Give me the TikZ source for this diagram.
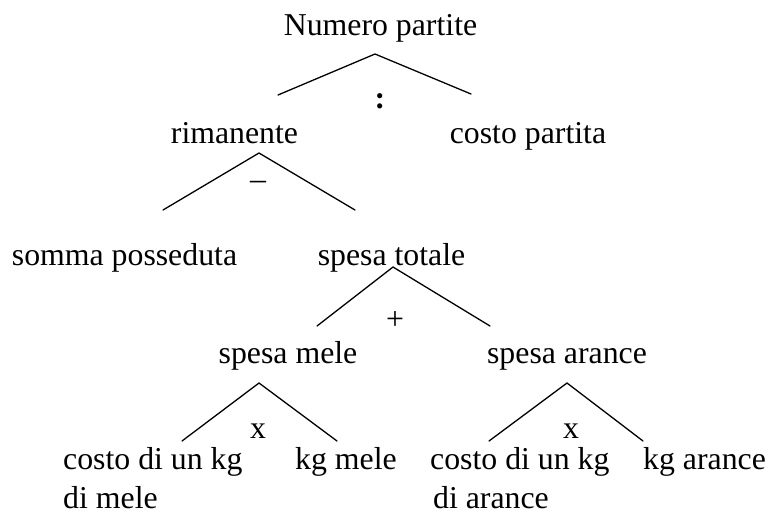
\documentclass[tikz,border=0pt]{standalone}
\usepackage{fontspec}
\setmainfont{Liberation Serif}
\usepackage{tikz}
\usetikzlibrary{positioning,calc}

\begin{document}
\begin{tikzpicture}[x=1pt,y=-1pt,
  lbl/.style={anchor=base,inner sep=0pt,font=\fontsize{31.8}{39}\selectfont},
  ramo/.style={line width=1.3pt,line cap=round}]
  \useasboundingbox (0,0) rectangle (770,515);

  % radice
  \node[lbl] (num) at (380.5,35) {Numero partite};
  \coordinate (a0) at (375,54);
  \coordinate (a0l) at (278,95);
  \coordinate (a0r) at (471,94);
  \draw[ramo] (a0l) -- (a0) -- (a0r);
  \node[lbl,anchor=center] (div) at (380,101) {\textbf{:}};

  % secondo livello
  \node[lbl] (rim) at (234.5,143) {rimanente};
  \node[lbl] (cpart) at (528,143) {costo partita};
  \coordinate (a1) at (259,153);
  \coordinate (a1l) at (163,210);
  \coordinate (a1r) at (355,210);
  \draw[ramo] (a1l) -- (a1) -- (a1r);
  \node[lbl,anchor=center] (meno) at (258,185) {--};

  % terzo livello
  \node[lbl] (somma) at (124.5,265) {somma posseduta};
  \node[lbl] (stot) at (391.5,265) {spesa totale};
  \coordinate (a2) at (393,267);
  \coordinate (a2l) at (317,326);
  \coordinate (a2r) at (490,326);
  \draw[ramo] (a2l) -- (a2) -- (a2r);
  \node[lbl,anchor=center] (piu) at (395,321) {+};

  % quarto livello
  \node[lbl] (smele) at (288,363) {spesa mele};
  \node[lbl] (sarance) at (567,363) {spesa arance};
  \coordinate (a3) at (259,383);
  \coordinate (a3l) at (182,441);
  \coordinate (a3r) at (337,441);
  \draw[ramo] (a3l) -- (a3) -- (a3r);
  \node[lbl] (permele) at (258,438) {x};
  \coordinate (a4) at (567,383);
  \coordinate (a4l) at (489,441);
  \coordinate (a4r) at (643,441);
  \draw[ramo] (a4l) -- (a4) -- (a4r);
  \node[lbl] (perarance) at (571,438) {x};

  % foglie
  \node[lbl,anchor=base west,align=left] (cmele) at (63,508) {costo di un kg\\di mele};
  \node[lbl,anchor=base west] (kgmele) at (295,469) {kg mele};
  \node[lbl,anchor=base west,align=left] (carance) at (430,508) {costo di un kg\\\hspace*{3pt}di arance};
  \node[lbl,anchor=base west] (kgarance) at (643,469) {kg arance};
\end{tikzpicture}
\end{document}
